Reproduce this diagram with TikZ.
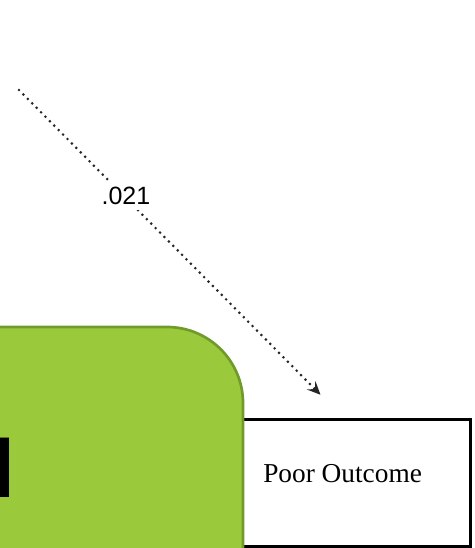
\documentclass[tikz,border=0pt]{standalone}
\usepackage{fontspec}
\setmainfont{Liberation Serif}
\newfontfamily\coeffont{Liberation Sans}
\usetikzlibrary{arrows.meta,positioning}

\definecolor{groupfill}{RGB}{154,202,60}
\definecolor{groupedge}{RGB}{112,154,42}

\tikzset{
  outbox/.style={draw=black, line width=2.25pt, fill=white, inner sep=0pt,
    minimum width=190.5pt, minimum height=95.25pt},
  groupbox/.style={draw=groupedge, fill=groupfill, line width=2pt, inner sep=0pt,
    rounded corners=57pt, minimum width=407.25pt, minimum height=279.75pt},
  effect/.style={draw=black!85, line width=2.2pt, line cap=round, dash pattern=on 0pt off 4.7pt,
    -{Stealth[length=10pt,width=9pt,inset=4pt]}, shorten >=24pt},
  coef/.style={font=\coeffont\fontsize{18.75}{20}\selectfont, fill=white, inner sep=4pt},
}

\begin{document}
\begin{tikzpicture}[x=0.75pt,y=0.75pt,yscale=-1,xscale=1]
    \clip (0,0) rectangle (474,548); %picture is 474 x 548

    %Shape: Rectangle [outcome]
    \node (outcome) [outbox] at (343,482.5) {};
    % Text Node
    \node (outcometext) [anchor=base west, inner sep=0pt, font=\fontsize{20.5}{22}\selectfont] at (263,482) {Poor Outcome};

    %Shape: Rounded Rectangle [group], runs past the left and bottom edges
    \node (group) [groupbox] at (-28.5,513.5) {};
    % Text Node
    \node (grouptext) [anchor=base west, inner sep=0pt, font=\coeffont\bfseries\fontsize{61.5}{64}\selectfont] at (-7.5,497) {l};

    %Path: dotted effect into the outcome
    \coordinate (src) at (19,90);
    \draw [effect] (src) -- node [coef, pos=0.33, yshift=2pt] {.021} (outcome.north);
\end{tikzpicture}
\end{document}
